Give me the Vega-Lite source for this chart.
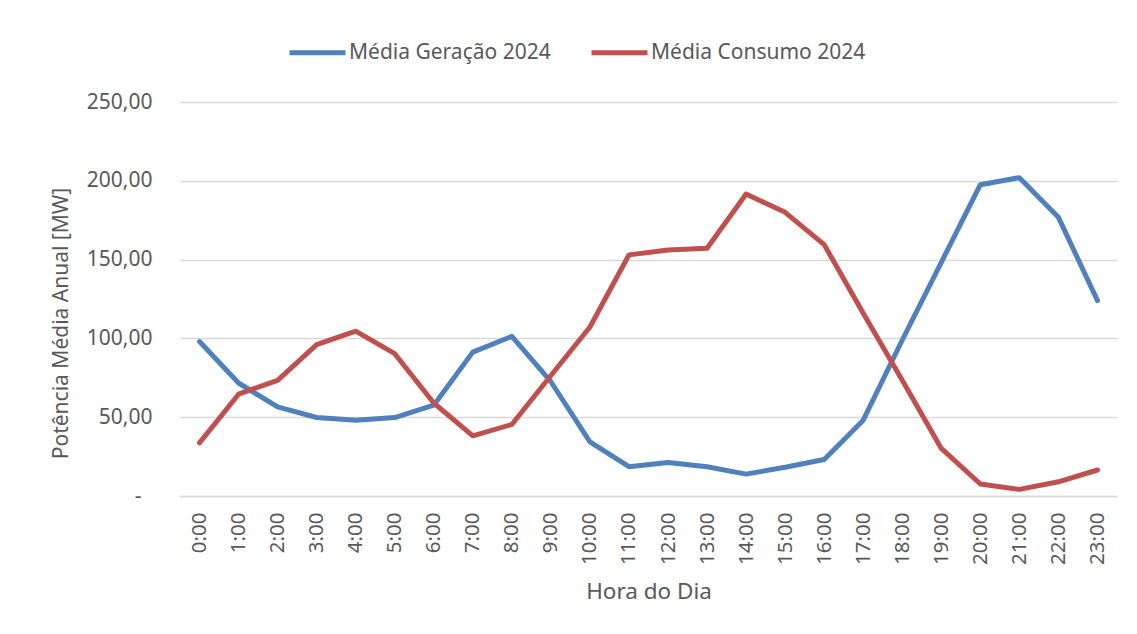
{
  "$schema": "https://vega.github.io/schema/vega-lite/v6.json",
  "autosize": "none",
  "width": 937,
  "height": 394,
  "padding": {"left": 180, "top": 102, "right": 20, "bottom": 138},
  "background": "white",
  "config": {
    "font": "Noto Sans",
    "view": {"stroke": null}
  },
  "datasets": {
    "d": [
      {"hora": "0:00", "serie": "Média Geração 2024", "valor": 98.0},
      {"hora": "1:00", "serie": "Média Geração 2024", "valor": 71.7},
      {"hora": "2:00", "serie": "Média Geração 2024", "valor": 56.5},
      {"hora": "3:00", "serie": "Média Geração 2024", "valor": 49.8},
      {"hora": "4:00", "serie": "Média Geração 2024", "valor": 48.1},
      {"hora": "5:00", "serie": "Média Geração 2024", "valor": 49.8},
      {"hora": "6:00", "serie": "Média Geração 2024", "valor": 57.6},
      {"hora": "7:00", "serie": "Média Geração 2024", "valor": 91.3},
      {"hora": "8:00", "serie": "Média Geração 2024", "valor": 101.3},
      {"hora": "9:00", "serie": "Média Geração 2024", "valor": 72.5},
      {"hora": "10:00", "serie": "Média Geração 2024", "valor": 34.4},
      {"hora": "11:00", "serie": "Média Geração 2024", "valor": 18.6},
      {"hora": "12:00", "serie": "Média Geração 2024", "valor": 21.3},
      {"hora": "13:00", "serie": "Média Geração 2024", "valor": 18.6},
      {"hora": "14:00", "serie": "Média Geração 2024", "valor": 13.9},
      {"hora": "15:00", "serie": "Média Geração 2024", "valor": 18.2},
      {"hora": "16:00", "serie": "Média Geração 2024", "valor": 23.2},
      {"hora": "17:00", "serie": "Média Geração 2024", "valor": 48.1},
      {"hora": "18:00", "serie": "Média Geração 2024", "valor": 99.0},
      {"hora": "19:00", "serie": "Média Geração 2024", "valor": 148.3},
      {"hora": "20:00", "serie": "Média Geração 2024", "valor": 197.5},
      {"hora": "21:00", "serie": "Média Geração 2024", "valor": 202.0},
      {"hora": "22:00", "serie": "Média Geração 2024", "valor": 176.8},
      {"hora": "23:00", "serie": "Média Geração 2024", "valor": 124.0},
      {"hora": "0:00", "serie": "Média Consumo 2024", "valor": 33.7},
      {"hora": "1:00", "serie": "Média Consumo 2024", "valor": 64.6},
      {"hora": "2:00", "serie": "Média Consumo 2024", "valor": 73.4},
      {"hora": "3:00", "serie": "Média Consumo 2024", "valor": 96.0},
      {"hora": "4:00", "serie": "Média Consumo 2024", "valor": 104.6},
      {"hora": "5:00", "serie": "Média Consumo 2024", "valor": 90.3},
      {"hora": "6:00", "serie": "Média Consumo 2024", "valor": 59.0},
      {"hora": "7:00", "serie": "Média Consumo 2024", "valor": 38.2},
      {"hora": "8:00", "serie": "Média Consumo 2024", "valor": 45.4},
      {"hora": "9:00", "serie": "Média Consumo 2024", "valor": 76.5},
      {"hora": "10:00", "serie": "Média Consumo 2024", "valor": 107.2},
      {"hora": "11:00", "serie": "Média Consumo 2024", "valor": 153.0},
      {"hora": "12:00", "serie": "Média Consumo 2024", "valor": 156.1},
      {"hora": "13:00", "serie": "Média Consumo 2024", "valor": 157.2},
      {"hora": "14:00", "serie": "Média Consumo 2024", "valor": 191.6},
      {"hora": "15:00", "serie": "Média Consumo 2024", "valor": 180.0},
      {"hora": "16:00", "serie": "Média Consumo 2024", "valor": 159.5},
      {"hora": "17:00", "serie": "Média Consumo 2024", "valor": 116.0},
      {"hora": "18:00", "serie": "Média Consumo 2024", "valor": 73.5},
      {"hora": "19:00", "serie": "Média Consumo 2024", "valor": 30.2},
      {"hora": "20:00", "serie": "Média Consumo 2024", "valor": 7.6},
      {"hora": "21:00", "serie": "Média Consumo 2024", "valor": 4.2},
      {"hora": "22:00", "serie": "Média Consumo 2024", "valor": 9.0},
      {"hora": "23:00", "serie": "Média Consumo 2024", "valor": 16.5}
    ]
  },
  "data": {"name": "d"},
  "mark": {"type": "line", "strokeWidth": 5, "strokeCap": "round", "strokeJoin": "round"},
  "encoding": {
    "x": {
      "field": "hora",
      "type": "ordinal",
      "sort": null,
      "scale": {"type": "point", "padding": 0.5},
      "axis": {
        "title": "Hora do Dia",
        "titleFontSize": 22.5,
        "titleFontWeight": "normal",
        "titleColor": "#595959",
        "titleY": 84,
        "titleBaseline": "top",
        "labelAngle": 270,
        "labelFontSize": 20.5,
        "labelColor": "#595959",
        "labelPadding": 16,
        "ticks": false,
        "domainColor": "#d9d9d9",
        "domainWidth": 1.5,
        "grid": false
      }
    },
    "y": {
      "field": "valor",
      "type": "quantitative",
      "scale": {"domain": [0, 250], "nice": false},
      "axis": {
        "title": "Potência Média Anual [MW]",
        "titleFontSize": 21,
        "titleFontWeight": "normal",
        "titleColor": "#595959",
        "titleX": -119,
        "titleY": 221,
        "titleAlign": "center",
        "titleBaseline": "middle",
        "titleAngle": 270,
        "values": [0, 50, 100, 150, 200, 250],
        "labelExpr": "datum.value == 0 ? '-' : replace(format(datum.value, '.2f'), '.', ',')",
        "labelFontSize": 21,
        "labelColor": "#595959",
        "labelPadding": {"condition": {"test": "datum.value == 0", "value": 39}, "value": 28},
        "ticks": false,
        "domain": false,
        "grid": true,
        "gridColor": "#d9d9d9",
        "gridWidth": 1.5
      }
    },
    "color": {
      "field": "serie",
      "type": "nominal",
      "sort": null,
      "scale": {"domain": ["Média Geração 2024", "Média Consumo 2024"], "range": ["#4f81bd", "#c0504d"]},
      "legend": {
        "title": null,
        "orient": "none",
        "direction": "horizontal",
        "legendX": 107,
        "legendY": -80,
        "symbolType": "stroke",
        "symbolSize": 3136,
        "symbolStrokeWidth": 5,
        "labelFontSize": 21,
        "labelColor": "#595959",
        "labelOffset": 1,
        "columnPadding": 30,
        "labelLimit": 400
      }
    }
  }
}
